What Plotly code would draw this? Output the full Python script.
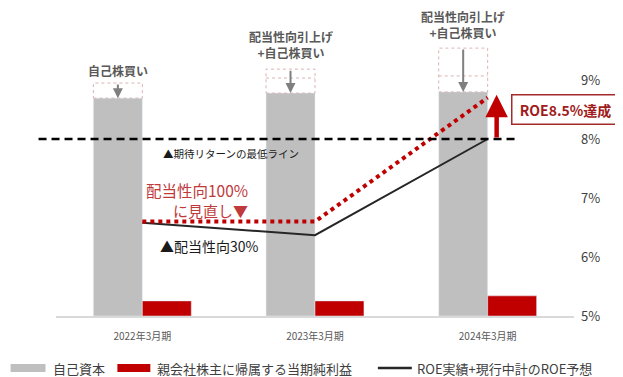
import plotly.graph_objects as go

# ---------------- data ----------------
categories = ["2022年3月期", "2023年3月期", "2024年3月期"]
equity = [736, 753, 757]                 # 自己資本 (relative units, left hidden axis)
equity_before = [787, 834, 905]          # dashed box top (before buyback / payout)
equity_mid = [None, 804, 811]            # inner dashed divider
net_income = [51, 51, 68]                # 親会社株主に帰属する当期純利益
roe_actual = [6.58, 6.37, 8.0]           # ROE実績+現行中計のROE予想 (%)
roe_revised = [6.6, 6.6, 8.7]            # 配当性向100%に見直し (%)
min_return = 8.0                         # 期待リターンの最低ライン (%)
roe_target_tip = 8.75
pct_ticks = [5, 6, 7, 8, 9]
pct_labels = ["5%", "6%", "7%", "8%", "9%"]

FONT = "Noto Sans CJK JP"
GRAY = "#bfbfbf"
RED = "#c00000"

OFF = 8  # default page body margin
W, H = 623 - OFF, 377 - OFF
# page-pixel plot area: x 55.5..574.5, y 20..316
L, R, T, B = 55.5 - OFF, 48.5, 20 - OFF, 61
plot_w = W - L - R
plot_h = H - T - B
px_per_pct = 59.0
y2_top = 5 + plot_h / px_per_pct


def px2paper_x(px):
    return (px - OFF - L) / plot_w


def py2paper_y(py):
    return (OFF + T + plot_h - py) / plot_h


fig = go.Figure()
fig.add_trace(go.Bar(x=categories, y=equity, marker_color=GRAY, name="自己資本",
                     showlegend=False, yaxis="y"))
fig.add_trace(go.Bar(x=categories, y=net_income, marker_color=RED,
                     name="親会社株主に帰属する当期純利益", showlegend=False, yaxis="y"))
fig.add_trace(go.Scatter(x=categories, y=roe_actual, mode="lines", yaxis="y2",
                         line=dict(color="#262626", width=2), showlegend=False,
                         name="ROE実績+現行中計のROE予想"))
fig.add_trace(go.Scatter(x=categories, y=roe_revised, mode="lines", yaxis="y2",
                         line=dict(color=RED, width=4, dash="dot"), showlegend=False))

shapes = []
annotations = []
bw = 0.2835  # bar width in category units (derived from bargap)

for i in range(len(categories)):
    x0, x1 = i - bw, i
    shapes.append(dict(type="rect", xref="x", yref="y", x0=x0, x1=x1,
                       y0=equity[i], y1=equity_before[i],
                       line=dict(color="#d8b4b4", width=1, dash="dot")))
    if equity_mid[i] is not None:
        shapes.append(dict(type="line", xref="x", yref="y", x0=x0, x1=x1,
                           y0=equity_mid[i], y1=equity_mid[i],
                           line=dict(color="#d8b4b4", width=1, dash="dot")))
    annotations.append(dict(x=i - bw / 2, y=equity[i], xref="x", yref="y",
                            ax=i - bw / 2, ay=equity_before[i], axref="x", ayref="y",
                            text="", showarrow=True, arrowhead=2, arrowsize=1,
                            arrowwidth=2, arrowcolor="#7f7f7f"))

# 8% minimum-return dashed line
shapes.append(dict(type="line", xref="paper", yref="y2",
                   x0=px2paper_x(38), x1=px2paper_x(515),
                   y0=min_return, y1=min_return,
                   line=dict(color="#000000", width=2.5, dash="8px,5px")))

# legend (manual)
leg_y = 368
shapes.append(dict(type="rect", xref="paper", yref="paper",
                   x0=px2paper_x(10), x1=px2paper_x(45),
                   y0=py2paper_y(372), y1=py2paper_y(364),
                   fillcolor=GRAY, line=dict(width=0)))
shapes.append(dict(type="rect", xref="paper", yref="paper",
                   x0=px2paper_x(117), x1=px2paper_x(150),
                   y0=py2paper_y(372), y1=py2paper_y(364),
                   fillcolor=RED, line=dict(width=0)))
shapes.append(dict(type="line", xref="paper", yref="paper",
                   x0=px2paper_x(378), x1=px2paper_x(412),
                   y0=py2paper_y(leg_y), y1=py2paper_y(leg_y),
                   line=dict(color="#262626", width=2.5)))
for txt, xpx in [("自己資本", 50), ("親会社株主に帰属する当期純利益", 155),
                 ("ROE実績+現行中計のROE予想", 415)]:
    annotations.append(dict(x=px2paper_x(xpx), y=py2paper_y(leg_y), xref="paper", yref="paper",
                            text=txt, showarrow=False, xanchor="left", yanchor="middle",
                            font=dict(family=FONT, size=13, color="#404040")))

# top labels
top_font = dict(family=FONT, size=12, color="#595959")
annotations.append(dict(x=0 - bw / 2, y=828, xref="x", yref="y", text="<b>自己株買い</b>",
                        showarrow=False, font=top_font))
annotations.append(dict(x=1 - bw / 2, y=916, xref="x", yref="y",
                        text="<b>配当性向引上げ<br>+自己株買い</b>", showarrow=False,
                        font=top_font))
annotations.append(dict(x=2 - bw / 2, y=986, xref="x", yref="y",
                        text="<b>配当性向引上げ<br>+自己株買い</b>", showarrow=False,
                        font=top_font))

# line annotations
annotations.append(dict(x=0.11, y=7.76, xref="x", yref="y2", text="▲期待リターンの最低ライン",
                        showarrow=False, xanchor="left",
                        font=dict(family=FONT, size=10.5, color="#1a1a1a")))
annotations.append(dict(x=0.624, y=7.14, xref="x", yref="y2", text="配当性向100%",
                        showarrow=False, xanchor="right",
                        font=dict(family=FONT, size=15.5, color="#c0393b")))
annotations.append(dict(x=0.624, y=6.79, xref="x", yref="y2", text="に見直し▼",
                        showarrow=False, xanchor="right",
                        font=dict(family=FONT, size=15, color="#c0393b")))
annotations.append(dict(x=0.092, y=6.19, xref="x", yref="y2", text="▲配当性向30%",
                        showarrow=False, xanchor="left",
                        font=dict(family=FONT, size=14, color="#1a1a1a")))

# red up arrow + target box
annotations.append(dict(x=2.052, y=roe_target_tip, xref="x", yref="y2",
                        ax=2.052, ay=min_return, axref="x", ayref="y2",
                        text="", showarrow=True, arrowhead=2, arrowsize=1,
                        arrowwidth=4.5, arrowcolor=RED))
annotations.append(dict(x=px2paper_x(566), y=py2paper_y(109), xref="paper", yref="paper",
                        text="<b>ROE8.5%達成</b>", showarrow=False,
                        xanchor="center", yanchor="middle", width=104, height=26,
                        bgcolor="white", bordercolor="#a52a2a", borderwidth=1.5,
                        font=dict(family=FONT, size=14, color="#a01c1c")))

fig.update_layout(
    width=W, height=H,
    margin=dict(l=L, r=R, t=T, b=B, pad=0),
    paper_bgcolor="white", plot_bgcolor="white",
    barmode="group", bargap=0.433, bargroupgap=0,
    showlegend=False,
    font=dict(family=FONT),
    xaxis=dict(type="category", showline=True, linecolor="#d9d9d9", linewidth=1.5,
               ticks="", showgrid=False, zeroline=False,
               tickfont=dict(family=FONT, size=10, color="#595959"),
               ticklabelstandoff=10),
    yaxis=dict(visible=False, range=[0, 1000], fixedrange=True),
    yaxis2=dict(overlaying="y", side="right", range=[5, y2_top],
                tickvals=pct_ticks, ticktext=pct_labels, showgrid=False,
                zeroline=False, showline=False, ticks="",
                tickfont=dict(family=FONT, size=13, color="#404040"),
                ticklabelstandoff=6),
    shapes=shapes,
    annotations=annotations,
)

fig.write_html("out.html")
